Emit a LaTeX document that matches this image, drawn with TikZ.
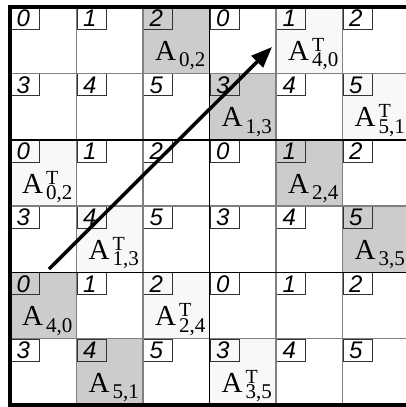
\documentclass[tikz,border=0pt]{standalone}
\usepackage{fontspec}
\setmainfont{Liberation Serif}
\newfontfamily\numfont{Liberation Sans}
\usetikzlibrary{arrows.meta}
\definecolor{darkcell}{HTML}{CCCCCC}
\definecolor{lightcell}{HTML}{F8F8F8}
\definecolor{gridgray}{HTML}{808080}
\newcommand\idxtext[1]{{\numfont\itshape\fontsize{24}{26}\selectfont\kern-3pt #1}}
% #1 superscript (may be empty), #2 subscript
\newcommand\mattext[2]{{\fontsize{29}{32}\selectfont A\kern3pt\rlap{\raisebox{9pt}{\fontsize{20}{20}\selectfont #1}}\raisebox{-6.5pt}{\fontsize{21}{21}\selectfont #2}}}
\begin{document}
\begin{tikzpicture}[x=1pt,y=-1pt,
  cell/.style={minimum width=66.5pt, minimum height=66.4pt, inner sep=0pt, outer sep=0pt, anchor=north west},
  gridline/.style={draw=gridgray, line width=1.1pt},
  blockline/.style={draw=black, line width=1.8pt},
  outerline/.style={draw=black, line width=3.5pt},
  idx/.style={draw=black!80, line width=0.8pt, minimum width=29pt, minimum height=22pt, text height=17pt, text depth=0pt, inner sep=0pt, anchor=north west},
  mat/.style={anchor=base east, inner sep=0pt},
  arrowline/.style={line width=3.5pt, -{Triangle[length=21pt,width=16pt]}}
]
\useasboundingbox (0,0) rectangle (406,407);
\clip (0,0) rectangle (406,407);
% cells, fills, index boxes, matrix labels
\foreach \row in {0,...,5}{
  \foreach \col in {0,...,5}{
    \pgfmathtruncatemacro\dd{mod(\col-\row+6,6)}
    \pgfmathtruncatemacro\nn{3*mod(\row,2)+mod(\col,3)}
    \pgfmathsetmacro\xx{10+66.5*\col}
    \pgfmathsetmacro\yy{6.8+66.4*\row}
    \ifnum\dd=2 \def\fc{darkcell}\else\ifnum\dd=4 \def\fc{lightcell}\else\def\fc{white}\fi\fi
    \node[cell, fill=\fc] (c\row\col) at (\xx,\yy) {};
    \node[idx] (i\row\col) at (c\row\col.north west) {\idxtext{\nn}};
    \ifnum\dd=2
      \node[mat] (m\row\col) at ([xshift=-4pt,yshift=13pt]c\row\col.south east) {\mattext{}{\row,\col}};
    \fi
    \ifnum\dd=4
      \node[mat] (m\row\col) at ([xshift=-4pt,yshift=13pt]c\row\col.south east) {\mattext{T}{\col,\row}};
    \fi
  }
}
% thin grid lines
\foreach \row in {0,...,5}{
  \foreach \col in {0,...,5}{
    \draw[gridline] (c\row\col.north west) rectangle (c\row\col.south east);
  }
}
% block lines
\draw[blockline] (c02.north east) -- (c52.south east);
\draw[blockline] (c10.south west) -- (c15.south east);
\draw[blockline] (c30.south west) -- (c35.south east);
% outer lines
\draw[outerline] (c00.north west) -- (c50.south west);
\draw[outerline] ([xshift=-1.75pt]c00.north west) -- (c05.north east);
\draw[outerline] ([xshift=-1.75pt]c50.south west) -- (c55.south east);
% arrow
\coordinate (tail) at (49,269);
\coordinate (head) at (272,47);
\draw[arrowline] (tail) -- (head);
\end{tikzpicture}
\end{document}
